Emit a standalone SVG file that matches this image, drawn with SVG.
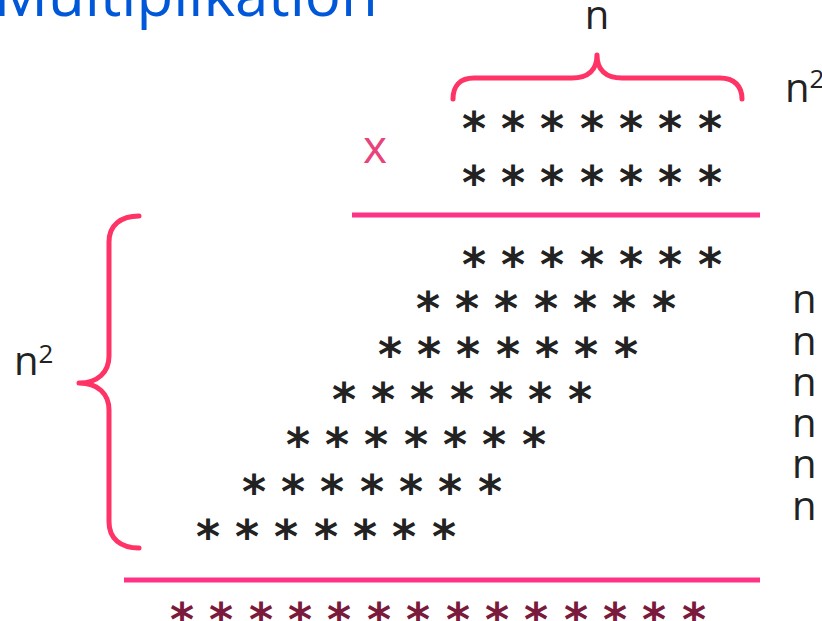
<svg xmlns="http://www.w3.org/2000/svg" width="822" height="621" viewBox="0 0 822 621">
  <style>
    .title { font-family: "Open Sans", "Noto Sans", sans-serif; font-size: 60px; fill: #0057d8; }
    .lbl { font-family: "Open Sans", "Noto Sans", sans-serif; font-size: 40px; fill: #222222; }
    .sup { font-size: 26px; }
    .times { font-family: "Open Sans", "Noto Sans", sans-serif; font-size: 46px; fill: #e8437c; }
    .star { font-family: "DejaVu Sans", sans-serif; font-weight: bold; font-size: 46px; fill: #222222; text-anchor: middle; }
    .star.result { fill: #7a1a3c; }
    .brace { fill: none; stroke: #ff3366; stroke-width: 5; stroke-linecap: round; stroke-linejoin: round; }
    .rule { stroke: #ff3385; stroke-width: 5; }
  </style>

  <text class="title" x="-6" y="16">Multiplikation</text>

  <!-- top brace: width n -->
  <g id="brace-top">
    <path class="brace" d="M453,99 C453,86 460,78 474,78 L572,78 C588,78 597,70 597,55 C597,70 606,78 622,78 L720,78 C734,78 742,86 742,99"/>
    <text class="lbl" x="597" y="29" text-anchor="middle">n</text>
  </g>

  <text class="lbl" x="785" y="102">n<tspan class="sup" dy="-14">2</tspan></text>

  <!-- multiplicands -->
  <g id="factor-a">
    <text class="star" x="474 513 552 592 631 670 710" y="145">*******</text>
  </g>
  <g id="factor-b">
    <text class="star" x="474 513 552 592 631 670 710" y="199">*******</text>
  </g>
  <text class="times" x="363" y="163">x</text>

  <line class="rule" x1="352" y1="215" x2="760" y2="215"/>

  <!-- partial products, each shifted one place left -->
  <g id="partials">
    <text class="star" x="474 513 552 592 631 670 710" y="281">*******</text>
    <text class="star" x="428 467 506 546 585 624 664" y="325">*******</text>
    <text class="star" x="390 429 468 508 547 586 626" y="371">*******</text>
    <text class="star" x="344 383 422 462 501 540 580" y="416">*******</text>
    <text class="star" x="298 337 376 416 455 494 534" y="461">*******</text>
    <text class="star" x="254 293 332 372 411 450 490" y="508">*******</text>
    <text class="star" x="208 247 286 326 365 404 444" y="553">*******</text>
  </g>

  <!-- left brace: n^2 -->
  <g id="brace-left">
    <path class="brace" d="M139,216 C121,216 109,225 109,242 L109,356 C109,372 98,383 79,383 C98,383 109,394 109,410 L109,522 C109,539 121,548 139,548"/>
    <text class="lbl" x="14" y="375">n<tspan class="sup" dy="-12">2</tspan></text>
  </g>

  <g id="row-labels">
    <text class="lbl" x="792" y="313">n</text>
    <text class="lbl" x="792" y="355">n</text>
    <text class="lbl" x="792" y="396">n</text>
    <text class="lbl" x="792" y="437">n</text>
    <text class="lbl" x="792" y="478">n</text>
    <text class="lbl" x="792" y="520">n</text>
  </g>

  <line class="rule" x1="124" y1="580" x2="760" y2="580"/>

  <g id="result">
    <text class="star result" x="182 221 261 300 339 379 418 458 497 536 576 615 654 694" y="636">**************</text>
  </g>
</svg>
